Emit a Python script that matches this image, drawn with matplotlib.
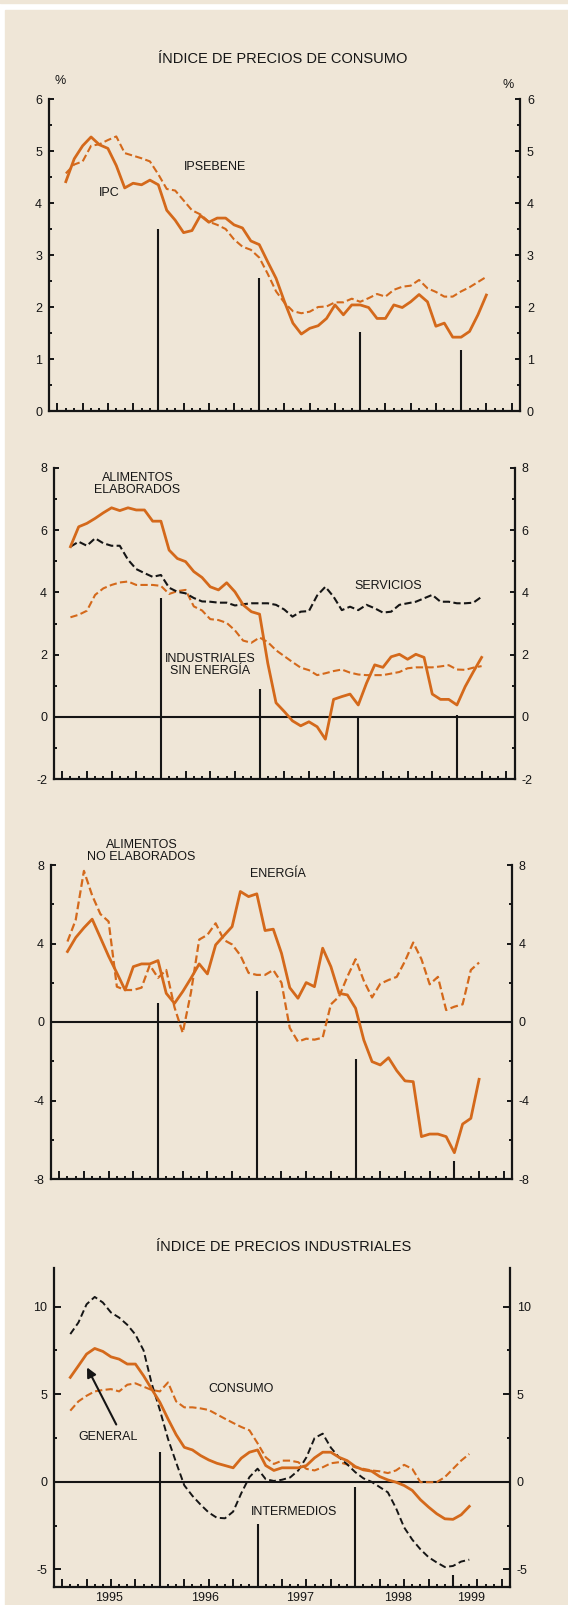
import numpy as np
import matplotlib.pyplot as plt
from matplotlib.patches import Rectangle
from matplotlib.ticker import FixedLocator, MultipleLocator

plt.rcParams["font.family"] = ["Liberation Sans", "DejaVu Sans"]

BG     = "#EFE6D7"
ORANGE = "#D4691B"
INK    = "#151515"

W, H = 568, 1605

# meses: 1 = ene-1995 ... tasas interanuales (%)
months51 = np.arange(1, 52)
months50 = np.arange(1, 51)

ipc = [4.41, 4.85, 5.10, 5.27, 5.12, 5.05, 4.72, 4.29, 4.38, 4.35, 4.44, 4.35,
       3.86, 3.67, 3.43, 3.47, 3.76, 3.63, 3.71, 3.71, 3.58, 3.52, 3.27, 3.20,
       2.87, 2.55, 2.10, 1.69, 1.48, 1.59, 1.64, 1.78, 2.04, 1.85, 2.04, 2.04,
       1.99, 1.78, 1.78, 2.04, 1.99, 2.10, 2.24, 2.10, 1.63, 1.69, 1.42, 1.42,
       1.53, 1.85, 2.23]
ipsebene = [4.57, 4.74, 4.80, 5.10, 5.13, 5.21, 5.28, 4.96, 4.91, 4.86, 4.80, 4.55,
            4.27, 4.24, 4.05, 3.86, 3.78, 3.64, 3.58, 3.50, 3.30, 3.16, 3.10, 2.95,
            2.64, 2.30, 2.08, 1.92, 1.88, 1.91, 2.00, 2.01, 2.09, 2.09, 2.16, 2.10,
            2.17, 2.25, 2.20, 2.33, 2.39, 2.41, 2.52, 2.36, 2.29, 2.20, 2.20, 2.30,
            2.38, 2.48, 2.58]

alim_elab = [5.47, 6.11, 6.22, 6.38, 6.56, 6.72, 6.63, 6.72, 6.65, 6.65, 6.29, 6.29,
             5.36, 5.09, 4.99, 4.67, 4.48, 4.18, 4.08, 4.31, 4.02, 3.60, 3.38, 3.30,
             1.72, 0.45, 0.17, -0.13, -0.29, -0.16, -0.32, -0.72, 0.56, 0.65, 0.73, 0.38,
             1.08, 1.67, 1.59, 1.93, 2.01, 1.85, 2.01, 1.91, 0.73, 0.56, 0.56, 0.38,
             0.97, 1.45, 1.91]
servicios = [5.47, 5.63, 5.50, 5.74, 5.58, 5.50, 5.50, 5.05, 4.75, 4.62, 4.50, 4.56,
             4.15, 4.02, 3.97, 3.82, 3.71, 3.70, 3.67, 3.67, 3.58, 3.62, 3.65, 3.65,
             3.65, 3.60, 3.45, 3.22, 3.38, 3.40, 3.90, 4.18, 3.86, 3.43, 3.54, 3.43,
             3.60, 3.49, 3.35, 3.38, 3.60, 3.65, 3.70, 3.81, 3.92, 3.70, 3.70, 3.65,
             3.65, 3.67, 3.86]
ind_sin_energia = [3.20, 3.28, 3.41, 3.92, 4.13, 4.24, 4.32, 4.35, 4.24, 4.24, 4.24, 4.21,
                   3.95, 4.04, 4.08, 3.55, 3.42, 3.14, 3.11, 3.02, 2.78, 2.45, 2.38, 2.55,
                   2.40, 2.14, 1.95, 1.76, 1.58, 1.50, 1.34, 1.40, 1.47, 1.52, 1.42, 1.36,
                   1.34, 1.34, 1.34, 1.39, 1.44, 1.56, 1.59, 1.59, 1.59, 1.62, 1.66, 1.52,
                   1.51, 1.58, 1.63]

energia = [3.59, 4.30, 4.80, 5.24, 4.30, 3.35, 2.50, 1.63, 2.82, 2.96, 2.96, 3.13,
           1.46, 0.95, 1.55, 2.23, 2.96, 2.45, 3.93, 4.40, 4.86, 6.65, 6.39, 6.53,
           4.66, 4.73, 3.50, 1.75, 1.21, 2.01, 1.80, 3.76, 2.82, 1.46, 1.38, 0.70,
           -0.92, -2.02, -2.19, -1.82, -2.48, -3.00, -3.04, -5.84, -5.71, -5.71, -5.84, -6.66,
           -5.20, -4.91, -2.92]
alim_no_elab = [4.10, 5.20, 7.70, 6.45, 5.50, 5.12, 1.80, 1.63, 1.63, 1.75, 2.90, 2.25,
                2.65, 0.75, -0.55, 1.50, 4.20, 4.44, 5.03, 4.18, 3.95, 3.40, 2.50, 2.40,
                2.40, 2.65, 2.00, -0.30, -1.00, -0.85, -0.90, -0.80, 0.90, 1.30, 2.31, 3.20,
                2.10, 1.25, 1.95, 2.14, 2.30, 3.10, 4.05, 3.20, 1.92, 2.30, 0.61, 0.78,
                0.90, 2.65, 3.03]

general = [5.96, 6.62, 7.29, 7.61, 7.44, 7.13, 7.00, 6.72, 6.72, 6.05, 5.29, 4.54,
           3.59, 2.69, 1.97, 1.82, 1.50, 1.25, 1.06, 0.93, 0.80, 1.35, 1.69, 1.82,
           0.93, 0.65, 0.80, 0.80, 0.80, 0.93, 1.37, 1.69, 1.69, 1.40, 1.21, 0.87,
           0.68, 0.61, 0.30, 0.11, -0.02, -0.21, -0.49, -1.02, -1.44, -1.82, -2.11, -2.14,
           -1.88, -1.40]
consumo = [4.06, 4.59, 4.91, 5.16, 5.24, 5.29, 5.16, 5.54, 5.62, 5.43, 5.24, 5.16,
           5.67, 4.59, 4.25, 4.25, 4.19, 4.10, 3.85, 3.60, 3.36, 3.13, 2.94, 2.20,
           1.40, 1.02, 1.21, 1.21, 1.12, 0.74, 0.65, 0.83, 1.06, 1.12, 0.99, 0.83,
           0.74, 0.65, 0.60, 0.50, 0.65, 0.97, 0.74, -0.02, -0.02, -0.02, 0.27, 0.74,
           1.21, 1.59]
intermedios = [8.43, 9.09, 10.13, 10.55, 10.23, 9.66, 9.37, 8.96, 8.40, 7.50, 5.60, 4.10,
               2.45, 1.10, -0.20, -0.80, -1.30, -1.75, -2.05, -2.08, -1.70, -0.65, 0.27, 0.75,
               0.15, 0.05, 0.12, 0.25, 0.65, 1.40, 2.50, 2.75, 1.95, 1.40, 1.00, 0.55,
               0.20, 0.00, -0.30, -0.60, -1.50, -2.60, -3.30, -3.85, -4.30, -4.60, -4.86, -4.80,
               -4.55, -4.44]

# separadores de año (posicion del mes) y su altura en cada panel
year_bars = [12, 24, 36, 48]
bars_p1 = [3.5, 2.55, 1.52, 1.17]
bars_p2 = [3.81, 0.88, 0.03, 0.05]
bars_p3 = [0.95, 1.6, -1.9, -7.1]
bars_p4 = [1.71, -2.43, -0.29, -5.33]

years = ["1995", "1996", "1997", "1998", "1999"]
year_label_x = [5.8, 17.6, 29.2, 41.3, 50.2]


def make_ax(fig, left, right, top, bottom):
    return fig.add_axes([left / W, 1 - bottom / H, (right - left) / W, (bottom - top) / H])


def style_ax(ax, ylim, yticks, yminor, bars, ylen=3.5):
    ax.set_facecolor("none")
    ax.set_xlim(-1, 55)
    ax.set_ylim(*ylim)
    ax.spines["top"].set_visible(False)
    for s in ("left", "right", "bottom"):
        ax.spines[s].set_linewidth(1.6)
        ax.spines[s].set_color(INK)
    ax.xaxis.set_major_locator(FixedLocator(np.arange(0, 55, 3)))
    ax.xaxis.set_minor_locator(FixedLocator(np.arange(0, 55, 1)))
    ax.tick_params(axis="x", which="both", direction="in", width=1.4,
                   color=INK, labelbottom=False)
    ax.tick_params(axis="x", which="major", length=5.5)
    ax.tick_params(axis="x", which="minor", length=2)
    ax.set_yticks(yticks)
    ax.set_yticklabels([str(t) for t in yticks])
    ax.yaxis.set_minor_locator(MultipleLocator(yminor))
    ax.tick_params(axis="y", which="both", direction="in", left=True, right=True,
                   labelleft=True, labelright=True, width=1.4, color=INK,
                   labelsize=9, labelcolor=INK, pad=5)
    ax.tick_params(axis="y", which="major", length=ylen)
    ax.tick_params(axis="y", which="minor", length=2)
    ax.vlines(year_bars, ylim[0], bars, color=INK, lw=1.5, zorder=2)


def label(ax, x, y, s):
    ax.text(x, y, s, ha="center", va="center", fontsize=9, color=INK,
            linespacing=1.0, clip_on=False)


fig = plt.figure(figsize=(W / 100, H / 100), dpi=100)
fig.patch.set_facecolor("white")
fig.add_artist(Rectangle((5 / W, 0), 1, (H - 10) / H, transform=fig.transFigure,
                         color=BG, zorder=0))
fig.add_artist(Rectangle((0, 1 - 3 / H), 1, 3 / H, transform=fig.transFigure,
                         color=BG, zorder=0))

# --- IPC ---
ax1 = make_ax(fig, 49, 520, 99, 411)
style_ax(ax1, (0, 6), [0, 1, 2, 3, 4, 5, 6], 0.5, bars_p1)
ax1.plot(months51, ipsebene, color=ORANGE, lw=1.5, dashes=(3.5, 1.6), zorder=3)
ax1.plot(months51, ipc, color=ORANGE, lw=2.0, zorder=4)
label(ax1, 18.7, 4.69, "IPSEBENE")
label(ax1, 6.2, 4.19, "IPC")
label(ax1, 0.3, 6.35, "%")
label(ax1, 53.6, 6.27, "%")
fig.text(283 / W, 1 - 59 / H, "ÍNDICE DE PRECIOS DE CONSUMO", ha="center",
         va="center", fontsize=10.5, color=INK)

# --- componentes ---
ax2 = make_ax(fig, 54, 514.5, 468, 779)
style_ax(ax2, (-2, 8), [-2, 0, 2, 4, 6, 8], 1, bars_p2)
ax2.axhline(0, color=INK, lw=1.5, zorder=2)
ax2.plot(months51, ind_sin_energia, color=ORANGE, lw=1.5, dashes=(3.5, 1.6), zorder=3)
ax2.plot(months51, servicios, color=INK, lw=1.5, dashes=(3.5, 1.6), zorder=3)
ax2.plot(months51, alim_elab, color=ORANGE, lw=2.0, zorder=4)
label(ax2, 9.15, 7.47, "ALIMENTOS\nELABORADOS")
label(ax2, 39.7, 4.2, "SERVICIOS")
label(ax2, 18.0, 1.68, "INDUSTRIALES\nSIN ENERGÍA")

ax3 = make_ax(fig, 51, 512, 865, 1179)
style_ax(ax3, (-8, 8), [-8, -4, 0, 4, 8], 2, bars_p3)
ax3.axhline(0, color=INK, lw=1.5, zorder=2)
ax3.plot(months51, alim_no_elab, color=ORANGE, lw=1.6, dashes=(3.5, 1.6), zorder=3)
ax3.plot(months51, energia, color=ORANGE, lw=2.0, zorder=4)
label(ax3, 10.0, 8.72, "ALIMENTOS\nNO ELABORADOS")
label(ax3, 26.6, 7.55, "ENERGÍA")

# --- precios industriales ---
ax4 = make_ax(fig, 54, 510, 1268, 1587)
style_ax(ax4, (-6, 12.2), [-5, 0, 5, 10], 2.5, bars_p4, ylen=5)
ax4.axhline(0, color=INK, lw=1.5, zorder=2)
ax4.plot(months50, consumo, color=ORANGE, lw=1.5, dashes=(3.5, 1.6), zorder=3)
ax4.plot(months50, intermedios, color=INK, lw=1.4, dashes=(3.5, 1.8), zorder=3)
ax4.plot(months50, general, color=ORANGE, lw=2.0, zorder=4)
label(ax4, 22.0, 5.3, "CONSUMO")
label(ax4, 5.7, 2.55, "GENERAL")
label(ax4, 28.5, -1.73, "INTERMEDIOS")
ax4.annotate("", xy=(2.9, 6.67), xytext=(6.8, 3.13),
             arrowprops=dict(arrowstyle="-|>", color=INK, lw=1.5, mutation_scale=14))
for yx, yl in zip(year_label_x, years):
    ax4.annotate(yl, (yx, 0), xycoords=("data", "axes fraction"),
                 xytext=(0, -8), textcoords="offset points", ha="center",
                 va="center", fontsize=9, color=INK, annotation_clip=False)
fig.text(284 / W, 1 - 1247 / H, "ÍNDICE DE PRECIOS INDUSTRIALES", ha="center",
         va="center", fontsize=10.5, color=INK)

fig.savefig("out.png", dpi=100)
